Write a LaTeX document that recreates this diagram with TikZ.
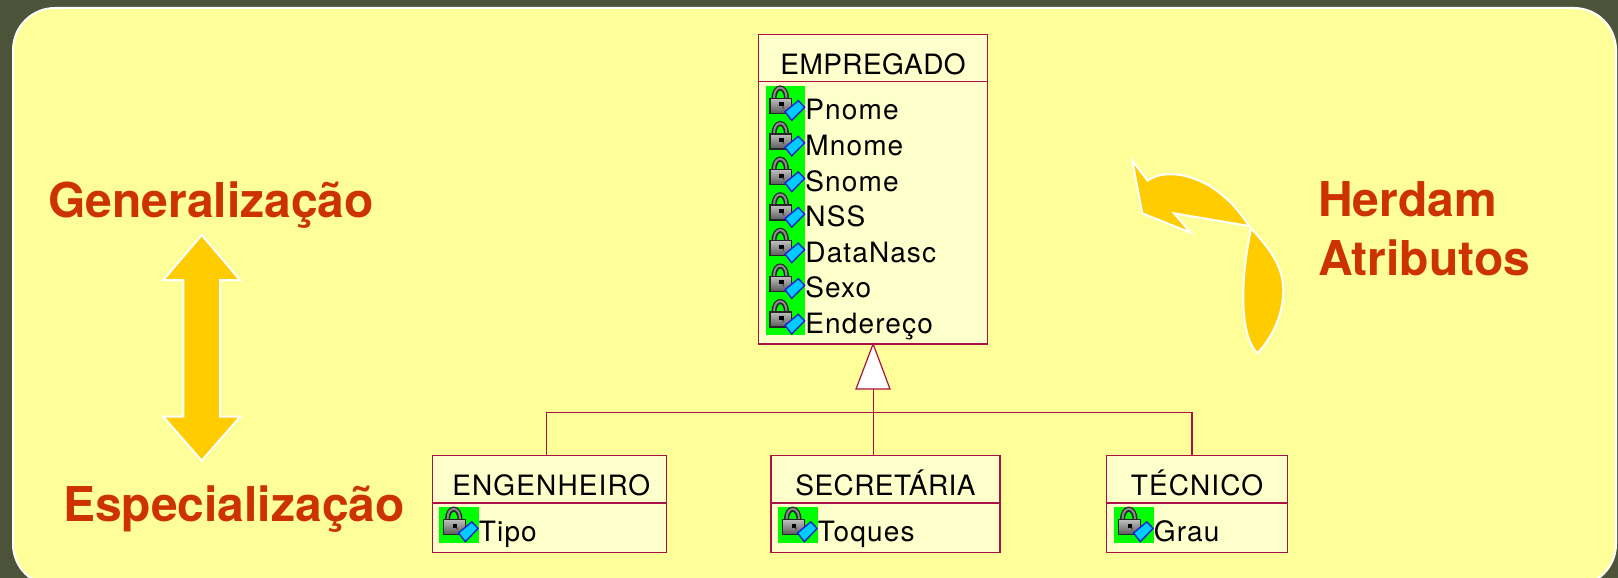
\documentclass[tikz,border=0pt]{standalone}
\usepackage{fontspec}
\setmainfont{TeX Gyre Heros}
\newfontfamily\umlfont[LetterSpace=4]{TeX Gyre Heros}
\newfontfamily\headfont[LetterSpace=1.5]{TeX Gyre Heros}
\usetikzlibrary{positioning}
\definecolor{slidebg}{HTML}{4C5339}
\definecolor{panelfill}{HTML}{FFFF99}
\definecolor{classfill}{HTML}{FFFFCC}
\definecolor{classline}{HTML}{AA1144}
\definecolor{arrowfill}{HTML}{FFCC00}
\definecolor{titlered}{HTML}{CC3300}
\definecolor{keyblue}{HTML}{00CCFF}
\definecolor{keyedge}{HTML}{2222CC}

\begin{document}
\begin{tikzpicture}[x=1pt,y=-1pt,
    title node/.style={anchor=base west,inner sep=0pt,text=titlered,font=\fontsize{48}{58.5}\selectfont\bfseries},
    class head/.style={draw=classline,fill=classfill,line width=1.2pt,inner sep=0pt,outer sep=0pt,
        text height=40.4pt,text depth=7pt,anchor=north,font=\umlfont\fontsize{28}{30}\selectfont},
    plain head/.style={font=\headfont\fontsize{28}{30}\selectfont},
    class body/.style={draw=classline,fill=classfill,line width=1.2pt,inner sep=0pt,outer sep=0pt},
    icon box/.style={fill=green,inner sep=0pt,outer sep=0pt,minimum width=39.5pt,minimum height=35.6pt},
    attr text/.style={anchor=base west,inner sep=0pt,font=\umlfont\fontsize{28}{30}\selectfont},
    uml line/.style={draw=classline,line width=1.2pt},
    big arrow/.style={fill=arrowfill,draw=white,line width=2pt,line join=miter},
    lockicon/.pic={
        \draw[black!85,line width=5pt] (-11.5,-5) .. controls (-11.5,-19.5) and (1,-19.5) .. (1,-5);
        \draw[black!45,line width=2pt] (-11.5,-6) .. controls (-11.5,-19.5) and (1,-19.5) .. (1,-6);
        \draw[black!85,top color=black!25,bottom color=black!65,line width=1.4pt] (-15.5,-5.5) rectangle (6.2,9.5);
        \fill[black] (-6.5,-1.5) rectangle (-2,2.5);
        \fill[black!70] (-3.8,2.5) -- (-1.5,2.5) -- (-1.5,5.5) -- cycle;
        \draw[keyedge,fill=keyblue,line width=1.4pt] (-0.5,7.9) -- (12.8,-3.1) -- (19.2,3.5) -- (6.2,16.6) -- cycle;
    }]

    \useasboundingbox (0,0) rectangle (1618,578);
    \fill[slidebg] (0,0) rectangle (1618,579);
    \draw[fill=panelfill,draw=white,line width=2pt,rounded corners=42pt] (13,8) rectangle (1616,586);

    % left side
    \node[title node] (generalizacao) at (48,217.5) {Generalização};
    \node[title node] (especializacao) at (63,521) {Especialização};
    \draw[big arrow] (201.7,235) -- (240,280) -- (220,280) -- (220,416.7) -- (240,416.7) -- (201.7,460.7)
        -- (163.3,416.7) -- (183.3,416.7) -- (183.3,280) -- (163.3,280) -- cycle;

    % right side
    \node[title node,align=left,anchor=north west] (herdam) at (1318,181.5) {Herdam\\Atributos};
    \draw[big arrow] (1132.3,160.7) -- (1147.7,180.7) .. controls (1165,167) and (1215,172) .. (1249,226)
        -- (1174,213.3) -- (1190.7,232.7) -- (1142.3,213.3) -- cycle;
    \draw[big arrow] (1251,228.3) .. controls (1263,242) and (1283.3,262) .. (1283.3,290)
        .. controls (1283.3,315) and (1272,338) .. (1257.3,353.3)
        .. controls (1245,340) and (1243.3,315) .. (1243.3,296.7)
        .. controls (1243.3,270) and (1247,250) .. (1251,228.3) -- cycle;

    % classes
    \node[class head,plain head,minimum width=229.2pt] (empregado) at (873.1,34.3) {EMPREGADO};
    \node[class body,minimum width=229.2pt,minimum height=262.3pt,below=0pt of empregado] (empregadobody) {};

    \node[class head,minimum width=234pt] (engenheiro) at (549.3,455.5) {\hspace*{4pt}ENGENHEIRO};
    \node[class body,minimum width=234pt,minimum height=49.3pt,below=0pt of engenheiro] (engenheirobody) {};

    \node[class head,plain head,minimum width=229pt] (secretaria) at (885.5,455.5) {SECRETÁRIA};
    \node[class body,minimum width=229pt,minimum height=49.3pt,below=0pt of secretaria] (secretariabody) {};

    \node[class head,minimum width=180.6pt] (tecnico) at (1197,455.5) {TÉCNICO};
    \node[class body,minimum width=180.6pt,minimum height=49.3pt,below=0pt of tecnico] (tecnicobody) {};

    % attributes
    \node[icon box] (pnomeicon) at (785.5,103.8) {};
    \node[icon box,below=0pt of pnomeicon] (mnomeicon) {};
    \node[icon box,below=0pt of mnomeicon] (snomeicon) {};
    \node[icon box,below=0pt of snomeicon] (nssicon) {};
    \node[icon box,below=0pt of nssicon] (dataicon) {};
    \node[icon box,below=0pt of dataicon] (sexoicon) {};
    \node[icon box,below=0pt of sexoicon] (enderecoicon) {};
    \node[icon box] (tipoicon) at (459,525) {};
    \node[icon box] (toquesicon) at (798,525) {};
    \node[icon box] (grauicon) at (1134,525) {};

    \pic at (pnomeicon) {lockicon};
    \pic at (mnomeicon) {lockicon};
    \pic at (snomeicon) {lockicon};
    \pic at (nssicon) {lockicon};
    \pic at (dataicon) {lockicon};
    \pic at (sexoicon) {lockicon};
    \pic at (enderecoicon) {lockicon};
    \pic at (tipoicon) {lockicon};
    \pic at (toquesicon) {lockicon};
    \pic at (grauicon) {lockicon};

    \node[attr text] (pnome) at ([yshift=1.8pt]pnomeicon.south east) {Pnome};
    \node[attr text] (mnome) at ([yshift=1.8pt]mnomeicon.south east) {Mnome};
    \node[attr text] (snome) at ([yshift=1.8pt]snomeicon.south east) {Snome};
    \node[attr text] (nss) at ([yshift=1.8pt]nssicon.south east) {NSS};
    \node[attr text] (datanasc) at ([yshift=1.8pt]dataicon.south east) {DataNasc};
    \node[attr text] (sexo) at ([yshift=1.8pt]sexoicon.south east) {Sexo};
    \node[attr text] (endereco) at ([yshift=1.8pt]enderecoicon.south east) {Endereço};
    \node[attr text] (tipo) at ([yshift=1.8pt]tipoicon.south east) {Tipo};
    \node[attr text] (toques) at ([yshift=1.8pt]toquesicon.south east) {Toques};
    \node[attr text] (grau) at ([yshift=1.8pt]grauicon.south east) {Grau};

    % inheritance
    \coordinate (apex) at (empregadobody.south);
    \coordinate (baseleft) at (856,389);
    \coordinate (baseright) at (890,389);
    \coordinate (basemid) at (873.1,389);
    \coordinate (engtop) at (546.7,412.7);
    \coordinate (tectop) at (1192,412.7);

    \draw[uml line] (basemid) -- (apex |- secretaria.north);
    \draw[uml line] (engenheiro.north -| engtop) -- (engtop) -- (tectop) -- (tecnico.north -| tectop);
    \draw[uml line,fill=white] (apex) -- (baseleft) -- (baseright) -- cycle;
\end{tikzpicture}
\end{document}
